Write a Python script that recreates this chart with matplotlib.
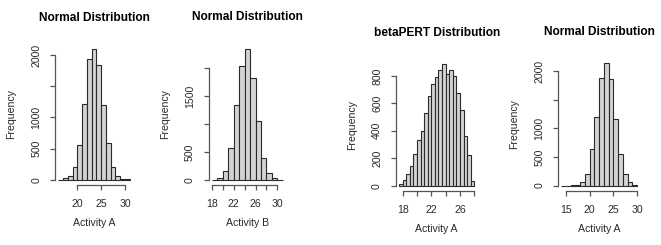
import matplotlib
matplotlib.use("Agg")
import matplotlib.pyplot as plt
from matplotlib.transforms import offset_copy

plt.rcParams["font.family"] = ["Liberation Sans", "DejaVu Sans"]

# Histogram data (bin edges and counts per bin)
a_norm_breaks = [16, 17, 18, 19, 20, 21, 22, 23, 24, 25, 26, 27, 28, 29, 30, 31]
a_norm_counts = [2, 21, 59, 210, 554, 1220, 1930, 2091, 1844, 1193, 586, 210, 59, 16, 5]

b_norm_breaks = [18, 19, 20, 21, 22, 23, 24, 25, 26, 27, 28, 29, 30, 31]
b_norm_counts = [3, 36, 160, 562, 1341, 2039, 2356, 1830, 1058, 386, 126, 33, 4]

a_pert_breaks = [17.5, 18, 18.5, 19, 19.5, 20, 20.5, 21, 21.5, 22, 22.5,
                 23, 23.5, 24, 24.5, 25, 25.5, 26, 26.5, 27, 27.5, 28]
a_pert_counts = [9, 41, 85, 140, 230, 333, 401, 532, 652, 742, 795,
                 846, 888, 815, 846, 803, 674, 554, 362, 224, 36]

a_norm2_breaks = [14, 15, 16, 17, 18, 19, 20, 21, 22, 23, 24, 25, 26, 27, 28, 29, 30]
a_norm2_counts = [0, 0, 2, 12, 59, 210, 640, 1204, 1885, 2152, 1870, 1166, 548, 200, 59, 18]

W, H = 661, 245
fig = plt.figure(figsize=(W / 100, H / 100), dpi=100)

panels = [
    # title, xlabel, breaks, counts, xticks, xticklabels, yticks, yticklabels, box(px: left, right, top, bottom)
    ("Normal Distribution", "Activity A", a_norm_breaks, a_norm_counts,
     [20, 25, 30], ["20", "25", "30"],
     [0, 500, 1000, 1500, 2000], ["0", "500", "1000", "", "2000"],
     (55.4, 132.6, 44.1, 185)),
    ("Normal Distribution", "Activity B", b_norm_breaks, b_norm_counts,
     [18, 20, 22, 24, 26, 28, 30], ["18", "", "22", "", "26", "", "30"],
     [0, 500, 1000, 1500, 2000], ["0", "500", "", "1500", ""],
     (208.9, 285.7, 43.4, 185)),
    ("betaPERT Distribution", "Activity A", a_pert_breaks, a_pert_counts,
     [18, 20, 22, 24, 26, 28], ["18", "", "22", "", "26", ""],
     [0, 200, 400, 600, 800], ["0", "200", "400", "600", "800"],
     (396.1, 477.3, 59, 190.5)),
    ("Normal Distribution", "Activity A", a_norm2_breaks, a_norm2_counts,
     [15, 20, 25, 30], ["15", "20", "25", "30"],
     [0, 500, 1000, 1500, 2000], ["0", "500", "1000", "", "2000"],
     (558.2, 640, 57.8, 190.5)),
]

text_col = "#2a2a2a"
axis_col = "#555555"

for title, xlab, breaks, counts, xt, xtl, yt, ytl, box in panels:
    left, right, top, bottom = box
    ax = fig.add_axes([left / W, 1 - bottom / H, (right - left) / W, (bottom - top) / H])

    lefts = breaks[:-1]
    widths = [b - a for a, b in zip(breaks[:-1], breaks[1:])]
    ax.bar(lefts, counts, width=widths, align="edge", color="#d3d3d3",
           edgecolor="#2a2a2a", linewidth=0.8)

    # R style limits: 4% padding around the bin range and counts
    xr = breaks[-1] - breaks[0]
    ax.set_xlim(breaks[0] - 0.04 * xr, breaks[-1] + 0.04 * xr)
    ymax = max(counts)
    ax.set_ylim(-0.04 * ymax, 1.04 * ymax)

    for s in ["top", "right"]:
        ax.spines[s].set_visible(False)
    for s in ["left", "bottom"]:
        ax.spines[s].set_color(axis_col)
        ax.spines[s].set_linewidth(0.9)
    ax.spines["bottom"].set_bounds(xt[0], xt[-1])
    ax.spines["left"].set_bounds(yt[0], yt[-1])

    ax.set_xticks(xt)
    ax.set_xticklabels(xtl)
    ax.set_yticks(yt)
    ax.set_yticklabels(ytl, rotation=90, va="center")
    ax.tick_params(length=3.6, width=0.9, color=axis_col, labelsize=7.6,
                   labelcolor=text_col)
    ax.tick_params(axis="x", pad=6.5)
    ax.tick_params(axis="y", pad=6.5)
    ax.patch.set_visible(False)

    ax.text(0.5, 1, title, transform=offset_copy(ax.transAxes, fig=fig, y=26, units="dots"),
            ha="center", va="center", fontsize=8.6, fontweight="bold", color="black")
    ax.text(0.5, 0, xlab, transform=offset_copy(ax.transAxes, fig=fig, y=-38, units="dots"),
            ha="center", va="center", fontsize=7.6, color=text_col)
    ax.text(0, 0.5, "Frequency", transform=offset_copy(ax.transAxes, fig=fig, x=-44, units="dots"),
            ha="center", va="center", rotation=90, fontsize=7.6, color=text_col)

fig.savefig("out.png", dpi=100)
